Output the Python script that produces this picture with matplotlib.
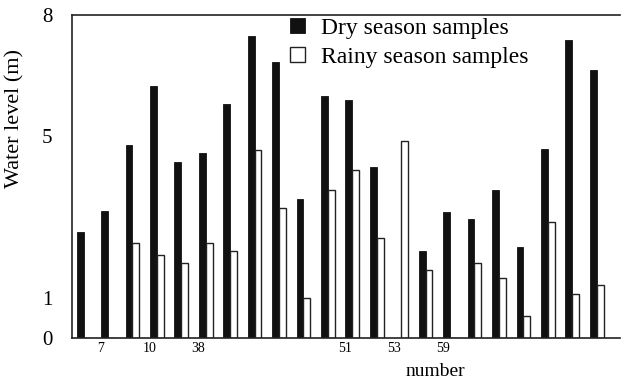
import numpy as np
import matplotlib
matplotlib.use('Agg')
import matplotlib.pyplot as plt

# water level per sample group
dry_levels = [2.62, 3.14, 4.78, 6.24, 4.36, 4.58, 5.79, 7.48, 6.83, 3.44, 5.99,
              5.89, 4.23, 0.0, 2.15, 3.12, 2.95, 3.66, 2.25, 4.68, 7.38, 6.63]
rainy_levels = [0.0, 0.0, 2.35, 2.05, 1.86, 2.35, 2.15, 4.65, 3.22, 0.99, 3.66,
                4.16, 2.48, 4.88, 1.68, 0.0, 1.86, 1.49, 0.54, 2.87, 1.09, 1.31]
tick_groups = [1, 3, 5, 11, 13, 15]
tick_labels = ['7', '10', '38', '51', '53', '59']
y_ticks = [0, 1, 5, 8]

plt.rcParams['font.family'] = ['Liberation Serif', 'DejaVu Serif']

fig = plt.figure(figsize=(6.23, 3.83), dpi=100)
ax = fig.add_axes([0.1156, 0.1175, 0.879, 0.8435])

x = np.arange(len(dry_levels))
w = 0.28
ax.bar(x - w / 2, dry_levels, w, color='#111111', edgecolor='#111111',
       linewidth=0.6, label='Dry season samples')
ax.bar(x + w / 2, rainy_levels, w, color='white', edgecolor='#222222',
       linewidth=1.0, label='Rainy season samples')

ax.set_xlim(-0.47, 21.94)
ax.set_ylim(0, 8)

ax.set_yticks(y_ticks)
ax.set_yticklabels([str(v) for v in y_ticks], fontsize=15)
ax.set_xticks(np.array(tick_groups) - 0.3)
ax.set_xticklabels(tick_labels, fontsize=10)
ax.tick_params(axis='y', length=0, pad=14)
ax.tick_params(axis='x', length=0, pad=3)

ax.spines['right'].set_visible(False)
for s in ['left', 'bottom', 'top']:
    ax.spines[s].set_linewidth(1.2)
    ax.spines[s].set_color('#222222')

fig.text(15 / 623, 1 - 118 / 383, 'Water level (m)', rotation=90,
         ha='center', va='center', fontsize=16)
fig.text(435 / 623, 1 - 371 / 383, 'number', ha='center', va='center',
         fontsize=14)

ax.legend(loc='upper left', bbox_to_anchor=(0.38, 1.02), frameon=False,
          fontsize=17, handlelength=0.65, handleheight=0.6,
          handletextpad=0.7, labelspacing=0.35, borderaxespad=0.2,
          borderpad=0.2)

fig.savefig('out.png', dpi=100)
